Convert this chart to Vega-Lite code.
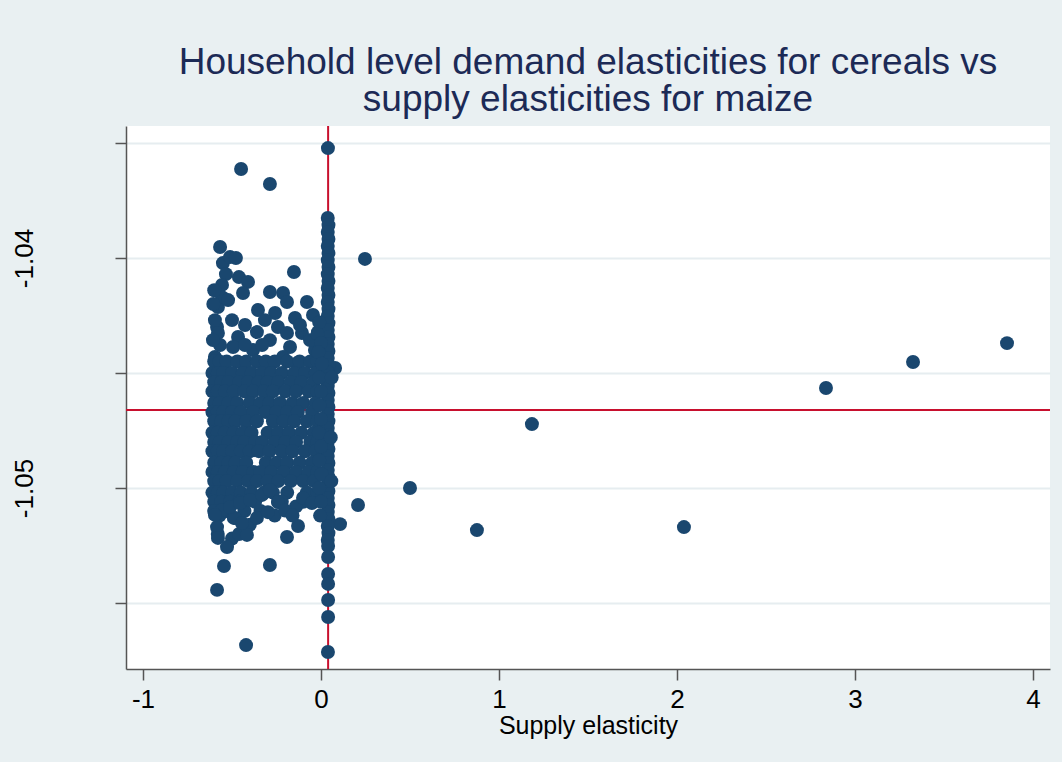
{
  "$schema": "https://vega.github.io/schema/vega-lite/v6.json",
  "width": 924,
  "height": 543,
  "autosize": {"type": "none"},
  "padding": {"left": 126, "top": 126, "right": 12, "bottom": 93},
  "background": "#e9f0f2",
  "config": {
    "view": {"fill": "white", "stroke": null},
    "font": "Liberation Sans"
  },
  "title": {
    "text": ["Household level demand elasticities for cereals vs", "supply elasticities for maize"],
    "font": "Liberation Sans",
    "fontSize": 37,
    "fontWeight": "normal",
    "color": "#1c2a56",
    "lineHeight": 37,
    "anchor": "middle",
    "offset": 6
  },
  "layer": [
    {
      "data": {"values": [{"supply": 0.04}]},
      "mark": {"type": "rule", "color": "#c8102e", "strokeWidth": 2},
      "encoding": {"x": {"field": "supply", "type": "quantitative"}}
    },
    {
      "data": {"values": [{"demand": -1.04661}]},
      "mark": {"type": "rule", "color": "#c8102e", "strokeWidth": 2},
      "encoding": {"y": {"field": "demand", "type": "quantitative"}}
    },
    {
      "data": {"values": [
        {"supply": -0.449, "demand": -1.03613}, {"supply": -0.287, "demand": -1.03678}, {"supply": 0.039, "demand": -1.03522},
        {"supply": 0.247, "demand": -1.04004}, {"supply": -0.152, "demand": -1.04061}, {"supply": -0.567, "demand": -1.03952},
        {"supply": 1.185, "demand": -1.04722}, {"supply": 0.5, "demand": -1.05}, {"supply": 0.876, "demand": -1.05183},
        {"supply": 0.208, "demand": -1.05074}, {"supply": 0.107, "demand": -1.05157}, {"supply": 0.079, "demand": -1.04478},
        {"supply": 2.039, "demand": -1.0517}, {"supply": 2.837, "demand": -1.04565}, {"supply": 3.326, "demand": -1.04452},
        {"supply": 3.854, "demand": -1.0437}, {"supply": -0.421, "demand": -1.05683}, {"supply": -0.584, "demand": -1.05443},
        {"supply": -0.287, "demand": -1.05335}, {"supply": -0.545, "demand": -1.05339}, {"supply": 0.039, "demand": -1.05713},
        {"supply": -0.129, "demand": -1.05165}, {"supply": -0.191, "demand": -1.05213},

        {"supply": -0.551, "demand": -1.04022}, {"supply": -0.511, "demand": -1.03996}, {"supply": -0.478, "demand": -1.04},
        {"supply": -0.534, "demand": -1.0407}, {"supply": -0.461, "demand": -1.04083}, {"supply": -0.41, "demand": -1.04104},
        {"supply": -0.556, "demand": -1.04117}, {"supply": -0.438, "demand": -1.04152}, {"supply": -0.287, "demand": -1.04148},
        {"supply": -0.213, "demand": -1.04152}, {"supply": -0.191, "demand": -1.04191}, {"supply": -0.079, "demand": -1.04191},
        {"supply": -0.354, "demand": -1.04226}, {"supply": -0.258, "demand": -1.04239}, {"supply": -0.146, "demand": -1.04261},
        {"supply": -0.045, "demand": -1.04248}, {"supply": -0.579, "demand": -1.04213}, {"supply": -0.556, "demand": -1.0417},
        {"supply": -0.584, "demand": -1.043}, {"supply": -0.579, "demand": -1.04326}, {"supply": -0.466, "demand": -1.04343},
        {"supply": -0.36, "demand": -1.04322}, {"supply": -0.242, "demand": -1.043}, {"supply": -0.191, "demand": -1.04326},
        {"supply": -0.107, "demand": -1.04326}, {"supply": -0.017, "demand": -1.04322}, {"supply": -0.287, "demand": -1.04357},
        {"supply": -0.174, "demand": -1.04387}, {"supply": -0.382, "demand": -1.044}, {"supply": -0.494, "demand": -1.04387},
        {"supply": -0.303, "demand": -1.04457}, {"supply": -0.213, "demand": -1.0443}, {"supply": -0.135, "demand": -1.04457},
        {"supply": -0.034, "demand": -1.044}, {"supply": -0.596, "demand": -1.0443}, {"supply": -0.596, "demand": -1.0427},
        {"supply": -0.522, "demand": -1.04183}, {"supply": -0.5, "demand": -1.0427}, {"supply": -0.427, "demand": -1.04291},
        {"supply": -0.315, "demand": -1.0427}, {"supply": -0.118, "demand": -1.04291}, {"supply": -0.062, "demand": -1.04357},
        {"supply": -0.567, "demand": -1.04378}, {"supply": -0.427, "demand": -1.04378}, {"supply": -0.331, "demand": -1.04378},
        {"supply": -0.607, "demand": -1.04357}, {"supply": -0.6, "demand": -1.0414}, {"supply": -0.605, "demand": -1.042},

        {"supply": -0.60, "demand": -1.0445}, {"supply": -0.57, "demand": -1.0445}, {"supply": -0.53, "demand": -1.0445}, {"supply": -0.47, "demand": -1.0445}, {"supply": -0.42, "demand": -1.0445}, {"supply": -0.36, "demand": -1.0445}, {"supply": -0.31, "demand": -1.0445}, {"supply": -0.26, "demand": -1.0445}, {"supply": -0.19, "demand": -1.0445}, {"supply": -0.12, "demand": -1.0445}, {"supply": -0.06, "demand": -1.0445}, {"supply": -0.02, "demand": -1.0445},
        {"supply": -0.61, "demand": -1.0450}, {"supply": -0.58, "demand": -1.0450}, {"supply": -0.55, "demand": -1.0450}, {"supply": -0.50, "demand": -1.0450}, {"supply": -0.44, "demand": -1.0450}, {"supply": -0.39, "demand": -1.0450}, {"supply": -0.33, "demand": -1.0450}, {"supply": -0.28, "demand": -1.0450}, {"supply": -0.22, "demand": -1.0450}, {"supply": -0.15, "demand": -1.0450}, {"supply": -0.09, "demand": -1.0450}, {"supply": -0.03, "demand": -1.0450},
        {"supply": -0.60, "demand": -1.0454}, {"supply": -0.56, "demand": -1.0454}, {"supply": -0.52, "demand": -1.0454}, {"supply": -0.46, "demand": -1.0454}, {"supply": -0.41, "demand": -1.0454}, {"supply": -0.35, "demand": -1.0454}, {"supply": -0.30, "demand": -1.0454}, {"supply": -0.24, "demand": -1.0454}, {"supply": -0.17, "demand": -1.0454}, {"supply": -0.11, "demand": -1.0454}, {"supply": -0.04, "demand": -1.0454},
        {"supply": -0.61, "demand": -1.0458}, {"supply": -0.58, "demand": -1.0458}, {"supply": -0.54, "demand": -1.0458}, {"supply": -0.49, "demand": -1.0458}, {"supply": -0.43, "demand": -1.0458}, {"supply": -0.38, "demand": -1.0458}, {"supply": -0.32, "demand": -1.0458}, {"supply": -0.27, "demand": -1.0458}, {"supply": -0.20, "demand": -1.0458}, {"supply": -0.14, "demand": -1.0458}, {"supply": -0.07, "demand": -1.0458}, {"supply": -0.02, "demand": -1.0458},
        {"supply": -0.60, "demand": -1.0463}, {"supply": -0.57, "demand": -1.0463}, {"supply": -0.52, "demand": -1.0463}, {"supply": -0.47, "demand": -1.0463}, {"supply": -0.40, "demand": -1.0463}, {"supply": -0.34, "demand": -1.0463}, {"supply": -0.29, "demand": -1.0463}, {"supply": -0.23, "demand": -1.0463}, {"supply": -0.16, "demand": -1.0463}, {"supply": -0.10, "demand": -1.0463}, {"supply": -0.03, "demand": -1.0463},
        {"supply": -0.61, "demand": -1.0467}, {"supply": -0.58, "demand": -1.0467}, {"supply": -0.55, "demand": -1.0467}, {"supply": -0.50, "demand": -1.0467}, {"supply": -0.45, "demand": -1.0467}, {"supply": -0.38, "demand": -1.0467}, {"supply": -0.31, "demand": -1.0467}, {"supply": -0.25, "demand": -1.0467}, {"supply": -0.19, "demand": -1.0467}, {"supply": -0.13, "demand": -1.0467}, {"supply": -0.05, "demand": -1.0467},
        {"supply": -0.60, "demand": -1.0471}, {"supply": -0.56, "demand": -1.0471}, {"supply": -0.52, "demand": -1.0471}, {"supply": -0.48, "demand": -1.0471}, {"supply": -0.42, "demand": -1.0471}, {"supply": -0.36, "demand": -1.0471}, {"supply": -0.27, "demand": -1.0471}, {"supply": -0.21, "demand": -1.0471}, {"supply": -0.15, "demand": -1.0471}, {"supply": -0.08, "demand": -1.0471}, {"supply": -0.02, "demand": -1.0471},
        {"supply": -0.61, "demand": -1.0476}, {"supply": -0.58, "demand": -1.0476}, {"supply": -0.54, "demand": -1.0476}, {"supply": -0.49, "demand": -1.0476}, {"supply": -0.44, "demand": -1.0476}, {"supply": -0.39, "demand": -1.0476}, {"supply": -0.30, "demand": -1.0476}, {"supply": -0.24, "demand": -1.0476}, {"supply": -0.18, "demand": -1.0476}, {"supply": -0.11, "demand": -1.0476}, {"supply": -0.04, "demand": -1.0476},
        {"supply": -0.60, "demand": -1.0480}, {"supply": -0.57, "demand": -1.0480}, {"supply": -0.52, "demand": -1.0480}, {"supply": -0.47, "demand": -1.0480}, {"supply": -0.43, "demand": -1.0480}, {"supply": -0.37, "demand": -1.0480}, {"supply": -0.33, "demand": -1.0480}, {"supply": -0.26, "demand": -1.0480}, {"supply": -0.20, "demand": -1.0480}, {"supply": -0.14, "demand": -1.0480}, {"supply": -0.06, "demand": -1.0480}, {"supply": -0.02, "demand": -1.0480},
        {"supply": -0.61, "demand": -1.0484}, {"supply": -0.58, "demand": -1.0484}, {"supply": -0.55, "demand": -1.0484}, {"supply": -0.50, "demand": -1.0484}, {"supply": -0.45, "demand": -1.0484}, {"supply": -0.40, "demand": -1.0484}, {"supply": -0.35, "demand": -1.0484}, {"supply": -0.29, "demand": -1.0484}, {"supply": -0.22, "demand": -1.0484}, {"supply": -0.16, "demand": -1.0484}, {"supply": -0.09, "demand": -1.0484}, {"supply": -0.03, "demand": -1.0484},
        {"supply": -0.60, "demand": -1.0489}, {"supply": -0.56, "demand": -1.0489}, {"supply": -0.52, "demand": -1.0489}, {"supply": -0.48, "demand": -1.0489}, {"supply": -0.42, "demand": -1.0489}, {"supply": -0.31, "demand": -1.0489}, {"supply": -0.25, "demand": -1.0489}, {"supply": -0.19, "demand": -1.0489}, {"supply": -0.12, "demand": -1.0489}, {"supply": -0.05, "demand": -1.0489},
        {"supply": -0.61, "demand": -1.0493}, {"supply": -0.58, "demand": -1.0493}, {"supply": -0.54, "demand": -1.0493}, {"supply": -0.49, "demand": -1.0493}, {"supply": -0.44, "demand": -1.0493}, {"supply": -0.38, "demand": -1.0493}, {"supply": -0.34, "demand": -1.0493}, {"supply": -0.28, "demand": -1.0493}, {"supply": -0.21, "demand": -1.0493}, {"supply": -0.14, "demand": -1.0493}, {"supply": -0.07, "demand": -1.0493}, {"supply": -0.02, "demand": -1.0493},
        {"supply": -0.60, "demand": -1.0497}, {"supply": -0.57, "demand": -1.0497}, {"supply": -0.53, "demand": -1.0497}, {"supply": -0.47, "demand": -1.0497}, {"supply": -0.41, "demand": -1.0497}, {"supply": -0.36, "demand": -1.0497}, {"supply": -0.30, "demand": -1.0497}, {"supply": -0.24, "demand": -1.0497}, {"supply": -0.17, "demand": -1.0497}, {"supply": -0.10, "demand": -1.0497}, {"supply": -0.04, "demand": -1.0497},
        {"supply": -0.61, "demand": -1.0502}, {"supply": -0.58, "demand": -1.0502}, {"supply": -0.55, "demand": -1.0502}, {"supply": -0.50, "demand": -1.0502}, {"supply": -0.45, "demand": -1.0502}, {"supply": -0.39, "demand": -1.0502}, {"supply": -0.32, "demand": -1.0502}, {"supply": -0.27, "demand": -1.0502}, {"supply": -0.19, "demand": -1.0502}, {"supply": -0.08, "demand": -1.0502}, {"supply": -0.02, "demand": -1.0502},
        {"supply": -0.60, "demand": -1.0506}, {"supply": -0.56, "demand": -1.0506}, {"supply": -0.51, "demand": -1.0506}, {"supply": -0.46, "demand": -1.0506}, {"supply": -0.37, "demand": -1.0506}, {"supply": -0.24, "demand": -1.0506}, {"supply": -0.10, "demand": -1.0506},
        {"supply": -0.60, "demand": -1.0510}, {"supply": -0.57, "demand": -1.0512}, {"supply": -0.53, "demand": -1.0510}, {"supply": -0.49, "demand": -1.0513}, {"supply": -0.43, "demand": -1.0510},
        {"supply": -0.40, "demand": -1.0516}, {"supply": -0.34, "demand": -1.0510}, {"supply": -0.26, "demand": -1.0512}, {"supply": -0.22, "demand": -1.0506}, {"supply": -0.14, "demand": -1.0508},
        {"supply": -0.58, "demand": -1.0520}, {"supply": -0.50, "demand": -1.0522}, {"supply": -0.46, "demand": -1.0520},

        {"supply": -0.242, "demand": -1.05061}, {"supply": -0.101, "demand": -1.05043}, {"supply": -0.051, "demand": -1.05065},
        {"supply": -0.584, "demand": -1.0517}, {"supply": -0.579, "demand": -1.05217}, {"supply": -0.528, "demand": -1.05257},
        {"supply": -0.416, "demand": -1.05204}, {"supply": -0.36, "demand": -1.0513}, {"supply": -0.483, "demand": -1.0513},
        {"supply": -0.444, "demand": -1.05152}, {"supply": -0.556, "demand": -1.05096}, {"supply": -0.511, "demand": -1.05083},
        {"supply": -0.455, "demand": -1.05065}, {"supply": -0.399, "demand": -1.05052}, {"supply": -0.331, "demand": -1.0503},
        {"supply": -0.287, "demand": -1.05009}, {"supply": -0.596, "demand": -1.05117}, {"supply": -0.298, "demand": -1.05105},
        {"supply": -0.202, "demand": -1.05098}, {"supply": -0.160, "demand": -1.05120},

        {"supply": 0.038, "demand": -1.03826}, {"supply": 0.042, "demand": -1.03857}, {"supply": 0.038, "demand": -1.03887}, {"supply": 0.042, "demand": -1.03917},
        {"supply": 0.038, "demand": -1.03948}, {"supply": 0.042, "demand": -1.03978}, {"supply": 0.038, "demand": -1.04009}, {"supply": 0.042, "demand": -1.04039},
        {"supply": 0.038, "demand": -1.0407}, {"supply": 0.042, "demand": -1.041}, {"supply": 0.038, "demand": -1.0413}, {"supply": 0.042, "demand": -1.04161},
        {"supply": 0.038, "demand": -1.04191}, {"supply": 0.042, "demand": -1.04222}, {"supply": 0.038, "demand": -1.04252}, {"supply": 0.042, "demand": -1.04283},
        {"supply": 0.038, "demand": -1.04313}, {"supply": 0.042, "demand": -1.04343}, {"supply": 0.038, "demand": -1.04374}, {"supply": 0.042, "demand": -1.04404},
        {"supply": 0.038, "demand": -1.04435}, {"supply": 0.042, "demand": -1.04465}, {"supply": 0.038, "demand": -1.04496}, {"supply": 0.042, "demand": -1.04526},
        {"supply": 0.038, "demand": -1.04557}, {"supply": 0.042, "demand": -1.04587}, {"supply": 0.038, "demand": -1.04617}, {"supply": 0.042, "demand": -1.04648},
        {"supply": 0.038, "demand": -1.04678}, {"supply": 0.042, "demand": -1.04709}, {"supply": 0.038, "demand": -1.04739}, {"supply": 0.042, "demand": -1.0477},
        {"supply": 0.038, "demand": -1.048}, {"supply": 0.042, "demand": -1.0483}, {"supply": 0.038, "demand": -1.04861}, {"supply": 0.042, "demand": -1.04891},
        {"supply": 0.038, "demand": -1.04922}, {"supply": 0.042, "demand": -1.04952}, {"supply": 0.038, "demand": -1.04983}, {"supply": 0.042, "demand": -1.05013},
        {"supply": 0.038, "demand": -1.05043}, {"supply": 0.042, "demand": -1.05074}, {"supply": 0.038, "demand": -1.05104}, {"supply": 0.042, "demand": -1.05135},
        {"supply": 0.038, "demand": -1.05165}, {"supply": 0.042, "demand": -1.05196}, {"supply": 0.038, "demand": -1.05226}, {"supply": 0.040, "demand": -1.05252},
        {"supply": 0.040, "demand": -1.053}, {"supply": 0.040, "demand": -1.05374}, {"supply": 0.040, "demand": -1.05417}, {"supply": 0.040, "demand": -1.05487},
        {"supply": 0.040, "demand": -1.05561},

        {"supply": -0.01, "demand": -1.0428}, {"supply": -0.02, "demand": -1.0433}, {"supply": 0.0, "demand": -1.0437}, {"supply": -0.015, "demand": -1.0441},
        {"supply": 0.005, "demand": -1.0446}, {"supply": -0.01, "demand": -1.0452}, {"supply": 0.0, "demand": -1.0458}, {"supply": -0.01, "demand": -1.0464},
        {"supply": 0.0, "demand": -1.047}, {"supply": -0.012, "demand": -1.0476}, {"supply": 0.0, "demand": -1.0482}, {"supply": -0.01, "demand": -1.0488},
        {"supply": 0.003, "demand": -1.0494}, {"supply": -0.01, "demand": -1.05}, {"supply": 0.0, "demand": -1.0506}, {"supply": -0.005, "demand": -1.0512},
        {"supply": 0.06, "demand": -1.0452}, {"supply": 0.055, "demand": -1.0478}, {"supply": 0.058, "demand": -1.0497}
      ]},
      "mark": {"type": "circle", "size": 195, "color": "#1a476f", "opacity": 1},
      "encoding": {
        "x": {
          "field": "supply", "type": "quantitative",
          "scale": {"domain": [-1.0955, 4.0955], "nice": false, "zero": false},
          "axis": {
            "title": "Supply elasticity",
            "values": [-1, 0, 1, 2, 3, 4], "format": "d", "grid": false,
            "labelExpr": "replace(datum.label, '\u2212', '-')",
            "tickSize": 11, "tickColor": "#555555", "tickWidth": 1.5,
            "domainColor": "#555555", "domainWidth": 1.5,
            "labelFont": "Liberation Sans", "labelFontSize": 26, "labelColor": "black", "labelPadding": 6, "labelFlush": false,
            "titleFont": "Liberation Sans", "titleFontSize": 25, "titleFontWeight": "normal", "titleColor": "black", "titlePadding": 1
          }
        },
        "y": {
          "field": "demand", "type": "quantitative",
          "scale": {"domain": [-1.05787, -1.03426], "nice": false, "zero": false},
          "axis": {
            "title": null,
            "values": [-1.055, -1.05, -1.045, -1.04, -1.035],
            "labelExpr": "(abs(datum.value + 1.04) < 0.000001 || abs(datum.value + 1.05) < 0.000001) ? replace(format(datum.value, '.2f'), '\u2212', '-') : ''",
            "grid": true, "gridColor": "#e6edf0", "gridWidth": 2,
            "tickSize": 11, "tickColor": "#555555", "tickWidth": 1.5,
            "domainColor": "#555555", "domainWidth": 1.5,
            "labelFont": "Liberation Sans", "labelFontSize": 26, "labelColor": "black",
            "labelAngle": 270, "labelAlign": "center", "labelBaseline": "alphabetic", "labelPadding": 83
          }
        }
      }
    }
  ]
}
